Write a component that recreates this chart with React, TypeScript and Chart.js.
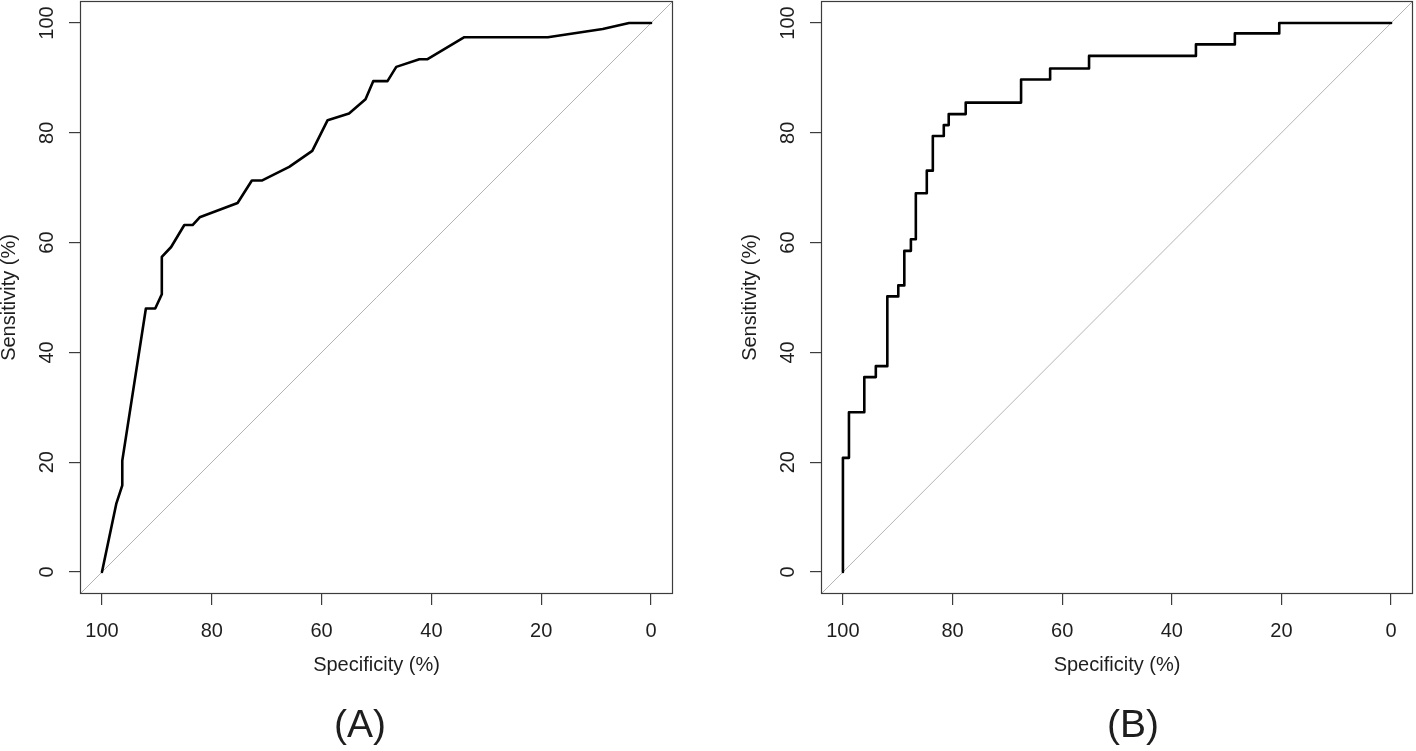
import React, { useEffect, useRef } from "react";
import { Chart, registerables } from "chart.js";

Chart.register(...registerables);

// ---- data -------------------------------------------------------------
const tickValues = [0, 20, 40, 60, 80, 100];
const axisMin = -4;
const axisMax = 104;
const xTitle = "Specificity (%)";
const yTitle = "Sensitivity (%)";
const panelLabels = ["(A)", "(B)"];

// Panel A ROC coordinates (specificity %, sensitivity %)
const specA = [100, 97.4, 96.3, 96.3, 92.0, 90.3, 89.1, 89.1, 87.4, 85.0, 83.5, 82.2, 75.3, 72.7, 70.9, 65.9, 61.7, 58.9, 55.0, 52.0, 50.6, 48.0, 46.4, 42.2, 40.7, 34.0, 18.8, 8.8, 4.0, 0];
const sensA = [0, 12.4, 15.8, 20.3, 48.0, 48.0, 50.6, 57.4, 59.2, 63.2, 63.2, 64.6, 67.2, 71.3, 71.3, 73.8, 76.7, 82.3, 83.5, 86.1, 89.4, 89.4, 92.0, 93.4, 93.4, 97.4, 97.4, 98.9, 100, 100];

// Panel B ROC coordinates (specificity %, sensitivity %)
const specB = [100, 100, 98.9, 98.9, 96.1, 96.1, 94.0, 94.0, 91.9, 91.9, 89.9, 89.9, 88.8, 88.8, 87.6, 87.6, 86.7, 86.7, 84.7, 84.7, 83.6, 83.6, 81.6, 81.6, 80.7, 80.7, 77.6, 77.6, 67.5, 67.5, 62.2, 62.2, 55.1, 55.1, 35.6, 35.6, 28.5, 28.5, 20.4, 20.4, 0];
const sensB = [0, 20.8, 20.8, 29.1, 29.1, 35.5, 35.5, 37.5, 37.5, 50.2, 50.2, 52.2, 52.2, 58.5, 58.5, 60.6, 60.6, 69.0, 69.0, 73.1, 73.1, 79.4, 79.4, 81.4, 81.4, 83.4, 83.4, 85.5, 85.5, 89.7, 89.7, 91.7, 91.7, 94.0, 94.0, 96.1, 96.1, 98.1, 98.1, 100, 100];

// chance diagonal
const diagSpec = [axisMax, axisMin];
const diagSens = [axisMin, axisMax];

// ---- layout -----------------------------------------------------------
const FONT_FAMILY = "'Liberation Sans', Arial, Helvetica, sans-serif";
const TEXT_COLOR = "#1e1e1e";
const AXIS_COLOR = "#3c3c3c";

type Panel = {
  left: number;
  width: number;
  yAxisWidth: number;
  padRight: number;
  yTitlePad: number;
  spec: number[];
  sens: number[];
  label: string;
  labelCenter: number;
};

const panels: Panel[] = [
  { left: 0, width: 708, yAxisWidth: 80, padRight: 35, yTitlePad: -3, spec: specA, sens: sensA, label: panelLabels[0], labelCenter: 360 },
  { left: 708, width: 708, yAxisWidth: 113, padRight: 3, yTitlePad: 30, spec: specB, sens: sensB, label: panelLabels[1], labelCenter: 1133 },
];

const boxPlugin = {
  id: "plotBox",
  afterDraw(chart: any) {
    const { ctx, chartArea } = chart;
    ctx.save();
    ctx.strokeStyle = AXIS_COLOR;
    ctx.lineWidth = 1.2;
    ctx.strokeRect(chartArea.left + 0.5, chartArea.top + 0.5, chartArea.right - chartArea.left - 1, chartArea.bottom - chartArea.top - 1);
    ctx.restore();
  },
};

function buildConfig(p: Panel): any {
  const font = { family: FONT_FAMILY, size: 20 };
  const setTicks = (s: any) => {
    s.ticks = tickValues.map((v) => ({ value: v }));
  };
  const grid = { drawOnChartArea: false, drawTicks: true, tickLength: 11, color: AXIS_COLOR, lineWidth: 1.2 };
  return {
    type: "line",
    data: {
      datasets: [
        {
          data: p.spec.map((x, i) => ({ x, y: p.sens[i] })),
          borderColor: "#000",
          borderWidth: 2.6,
          pointRadius: 0,
          tension: 0,
          fill: false,
          borderJoinStyle: "round",
          borderCapStyle: "round",
        },
        {
          data: diagSpec.map((x, i) => ({ x, y: diagSens[i] })),
          borderColor: "#b4b4b4",
          borderWidth: 1,
          pointRadius: 0,
          tension: 0,
          fill: false,
        },
      ],
    },
    options: {
      animation: false,
      responsive: false,
      devicePixelRatio: 1,
      events: [],
      layout: { padding: { left: 0, right: p.padRight, top: 1, bottom: 57 } },
      plugins: { legend: { display: false }, tooltip: { enabled: false }, title: { display: false } },
      scales: {
        x: {
          type: "linear",
          reverse: true,
          min: axisMin,
          max: axisMax,
          afterBuildTicks: setTicks,
          afterFit: (s: any) => {
            s.height = 100;
            s.paddingLeft = 0;
            s.paddingRight = 0;
          },
          grid,
          border: { display: false },
          ticks: { autoSkip: false, minRotation: 0, maxRotation: 0, padding: 14, color: TEXT_COLOR, font },
          title: { display: true, text: xTitle, color: TEXT_COLOR, font, padding: { top: 0, bottom: 17 } },
        },
        y: {
          type: "linear",
          min: axisMin,
          max: axisMax,
          afterBuildTicks: setTicks,
          afterFit: (s: any) => {
            s.width = p.yAxisWidth;
            s.paddingTop = 0;
            s.paddingBottom = 0;
          },
          grid,
          border: { display: false },
          ticks: { autoSkip: false, minRotation: 90, maxRotation: 90, crossAlign: "center", padding: 5, color: TEXT_COLOR, font },
          title: { display: true, text: yTitle, color: TEXT_COLOR, font, padding: { top: p.yTitlePad, bottom: 0 } },
        },
      },
    },
    plugins: [boxPlugin],
  };
}

function RocPanel({ p }: { p: Panel }) {
  const ref = useRef<HTMLCanvasElement>(null);
  useEffect(() => {
    if (!ref.current) return;
    const chart = new Chart(ref.current, buildConfig(p));
    return () => chart.destroy();
  }, [p]);
  return (
    <>
      <canvas
        ref={ref}
        width={p.width}
        height={751}
        style={{ position: "absolute", left: p.left, top: 0, width: p.width, height: 751 }}
      />
      <div
        style={{
          position: "absolute",
          left: p.labelCenter - 60,
          width: 120,
          top: 704,
          textAlign: "center",
          fontFamily: FONT_FAMILY,
          fontSize: 39,
          lineHeight: 1,
          color: TEXT_COLOR,
        }}
      >
        {p.label}
      </div>
    </>
  );
}

export default function App() {
  return (
    <div style={{ position: "absolute", left: 0, top: 0, width: 1416, height: 751, background: "#fff", overflow: "hidden" }}>
      {panels.map((p) => (
        <RocPanel key={p.label} p={p} />
      ))}
    </div>
  );
}
